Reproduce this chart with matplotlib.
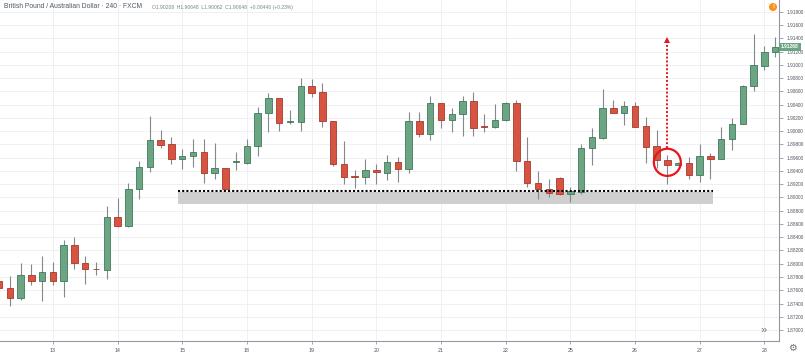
import numpy as np
import matplotlib
matplotlib.use("Agg")
import matplotlib.pyplot as plt
from matplotlib.patches import Ellipse, Rectangle

plt.rcParams['font.family'] = ['Liberation Sans', 'DejaVu Sans']

# --- Data: GBP/AUD 4h candles ---
day_labels = ['13', '14', '15', '18', '19', '20', '21', '22', '25', '26', '27', '28']
day_starts = [5, 11, 17, 23, 29, 35, 41, 47, 53, 59, 65, 71]

opens = [1.87740, 1.87638, 1.87478, 1.87830, 1.87740, 1.87876, 1.87744, 1.88279, 1.88016, 1.87918,
         1.87906, 1.88706, 1.88565, 1.89128, 1.89456, 1.89872, 1.89803, 1.89586, 1.89626, 1.89687,
         1.89365, 1.89441, 1.89534, 1.89525, 1.89777, 1.90280, 1.90497, 1.90140, 1.90144, 1.90683,
         1.90588, 1.90155, 1.89501, 1.89316, 1.89314, 1.89415, 1.89377, 1.89540, 1.89426, 1.90155,
         1.89958, 1.90422, 1.90174, 1.90256, 1.90452, 1.90062, 1.90064, 1.90165, 1.90426, 1.89546,
         1.89223, 1.89133, 1.89290, 1.89060, 1.89088, 1.89743, 1.89903, 1.90346, 1.90280, 1.90377,
         1.90075, 1.89773, 1.89566, 1.89495, 1.89521, 1.89335, 1.89626, 1.89586, 1.89879, 1.90105,
         1.90683, 1.90989, 1.91196]
highs = [1.87815, 1.87815, 1.88016, 1.87996, 1.88122, 1.88031, 1.88359, 1.88408, 1.88117, 1.88026,
         1.88872, 1.88988, 1.89223, 1.89546, 1.90230, 1.90019, 1.89918, 1.89732, 1.89879, 1.89883,
         1.89823, 1.89445, 1.89682, 1.89888, 1.90366, 1.90582, 1.90502, 1.90316, 1.90808, 1.90789,
         1.90724, 1.90160, 1.89857, 1.89415, 1.89581, 1.89501, 1.89642, 1.89607, 1.90286, 1.90286,
         1.90532, 1.90431, 1.90346, 1.90537, 1.90592, 1.90256, 1.90407, 1.90441, 1.90472, 1.89909,
         1.89405, 1.89284, 1.89302, 1.89154, 1.89808, 1.90054, 1.90633, 1.90472, 1.90452, 1.90442,
         1.90211, 1.90019, 1.89642, 1.89536, 1.89616, 1.89808, 1.89667, 1.90060, 1.90205, 1.90691,
         1.91463, 1.91287, 1.91427]
lows = [1.87574, 1.87362, 1.87453, 1.87679, 1.87442, 1.87679, 1.87503, 1.87916, 1.87690, 1.87830,
        1.87765, 1.88560, 1.88560, 1.88977, 1.89380, 1.89743, 1.89510, 1.89426, 1.89456, 1.89214,
        1.89284, 1.89113, 1.89415, 1.89506, 1.89626, 1.89993, 1.90008, 1.90105, 1.90004, 1.90522,
        1.90069, 1.89476, 1.89204, 1.89139, 1.89204, 1.89204, 1.89264, 1.89238, 1.89374, 1.89918,
        1.89863, 1.90045, 1.89993, 1.89928, 1.89933, 1.89993, 1.90054, 1.90155, 1.89405, 1.89154,
        1.88973, 1.89003, 1.89045, 1.88928, 1.89053, 1.89491, 1.89879, 1.90271, 1.90099, 1.90060,
        1.89525, 1.89441, 1.89204, 1.89491, 1.89284, 1.89238, 1.89275, 1.89577, 1.89717, 1.90102,
        1.90612, 1.90925, 1.91125]
closes = [1.87634, 1.87478, 1.87830, 1.87740, 1.87876, 1.87744, 1.88279, 1.88007, 1.87916, 1.87914,
          1.88706, 1.88565, 1.89128, 1.89456, 1.89872, 1.89797, 1.89586, 1.89626, 1.89687, 1.89365,
          1.89441, 1.89128, 1.89536, 1.89777, 1.90280, 1.90497, 1.90125, 1.90142, 1.90683, 1.90582,
          1.90150, 1.89501, 1.89314, 1.89312, 1.89415, 1.89380, 1.89540, 1.89426, 1.90155, 1.89958,
          1.90422, 1.90174, 1.90256, 1.90452, 1.90054, 1.90060, 1.90165, 1.90426, 1.89546, 1.89223,
          1.89133, 1.89063, 1.89053, 1.89091, 1.89743, 1.89909, 1.90346, 1.90280, 1.90377, 1.90069,
          1.89767, 1.89566, 1.89491, 1.89525, 1.89335, 1.89626, 1.89586, 1.89883, 1.90109, 1.90683,
          1.91000, 1.91196, 1.91268]

last_price = 1.91268
support_level = 1.89098
zone_low, zone_high = 1.88902, 1.89076
zone_start, zone_end = 16.6, 66.2
marked_bar = 62
arrow_from, arrow_to = 1.89747, 1.91423
price_ticks = np.arange(1.870, 1.9181, 0.002)

title = "British Pound / Australian Dollar \u00b7 240 \u00b7 FXCM"
ohlc_text = "O1.90208  H1.90648  L1.90062  C1.90648  +0.00440 (+0.23%)"

UP, DOWN = '#6ba583', '#d75442'
UP_EDGE, DOWN_EDGE = '#3f7a58', '#a8382a'
WICK = '#85878c'

# --- Figure ---
fig = plt.figure(figsize=(8.05, 3.55), dpi=100)
ax = fig.add_axes([0, 14 / 355, 779 / 805, 341 / 355])
ax.set_xlim(0.093, 72.36)
ax.set_ylim(1.86834, 1.91981)

# grid
for v in price_ticks:
    ax.axhline(v, color='#eef0f3', lw=0.7, zorder=0)
for d in day_starts:
    ax.axvline(d, color='#eef0f3', lw=0.7, zorder=0)

# support zone
ax.add_patch(Rectangle((zone_start, zone_low), zone_end - zone_start, zone_high - zone_low,
                       facecolor='#cfcfcf', edgecolor='none', zorder=1))

# candles
idx = np.arange(len(opens))
o = np.array(opens)
c = np.array(closes)
up = c >= o
ax.vlines(idx, lows, highs, color=WICK, lw=0.8, zorder=2)
body_h = np.maximum(np.abs(c - o), 0.00012)
ax.bar(idx[up], body_h[up], bottom=o[up], width=0.6, color=UP,
       edgecolor=UP_EDGE, linewidth=0.6, zorder=3)
ax.bar(idx[~up], body_h[~up], bottom=c[~up], width=0.6, color=DOWN,
       edgecolor=DOWN_EDGE, linewidth=0.6, zorder=3)

# dotted support line
ax.plot([zone_start, zone_end], [support_level, support_level], color='black',
        lw=1.5, linestyle=(0, (1, 1)), zorder=4)

# circle + dotted arrow
ax.add_patch(Ellipse((marked_bar, closes[marked_bar] + 0.0004), 2.5, 0.0041,
                     fill=False, edgecolor='#e8161b', lw=1.6, zorder=5))
ax.plot([marked_bar, marked_bar], [arrow_from, arrow_to - 0.0008], color='#e8161b',
        lw=1.4, linestyle=(0, (1, 1)), zorder=5)
ax.plot([marked_bar], [arrow_to - 0.0005], marker='^', color='#e8161b', markersize=4.5,
        markeredgewidth=0, zorder=5)

# axes styling
for s in ['top', 'left']:
    ax.spines[s].set_visible(False)
ax.spines['right'].set_color('#9598a1')
ax.spines['bottom'].set_color('#9598a1')
ax.spines['right'].set_linewidth(0.8)
ax.spines['bottom'].set_linewidth(0.8)
ax.yaxis.tick_right()
ax.set_yticks(price_ticks)
ax.set_yticklabels([f"{v:.5f}" for v in price_ticks])
ax.set_xticks(day_starts)
ax.set_xticklabels(day_labels)
ax.tick_params(axis='y', length=3, width=0.6, color='#9598a1', labelsize=3.4,
               labelcolor='#4c525e', pad=2.5)
ax.tick_params(axis='x', length=2, width=0.6, color='#9598a1', labelsize=3.8,
               labelcolor='#4c525e', pad=3)

# header text
fig.text(4 / 805, 1 - 7 / 355, title, fontsize=4.85, color='#4f5966', va='center', ha='left')
fig.text(152 / 805, 1 - 7 / 355, ohlc_text, fontsize=3.6, color='#6f8a7a', va='center', ha='left')

# last price label
fig.text(781 / 805, 1 - 47 / 355, f"{last_price:.5f}", fontsize=3.6, color='white',
         fontweight='bold', va='center', ha='left',
         bbox=dict(boxstyle='square,pad=0.35', facecolor=UP, edgecolor='none'))

# small icons
fig.text(773 / 805, 1 - 7 / 355, '!', fontsize=4.5, color='white', fontweight='bold',
         va='center', ha='center',
         bbox=dict(boxstyle='circle,pad=0.25', facecolor='#f7931e', edgecolor='none'))
fig.text(764 / 805, 1 - 330 / 355, '\u00bb', fontsize=8, color='#6a6d78', va='center', ha='center')
fig.text(792 / 805, 1 - 348 / 355, '\u2699', fontsize=7, color='#6a6d78', va='center', ha='center',
         family='DejaVu Sans')

fig.savefig('out.png', dpi=100, facecolor='white')
